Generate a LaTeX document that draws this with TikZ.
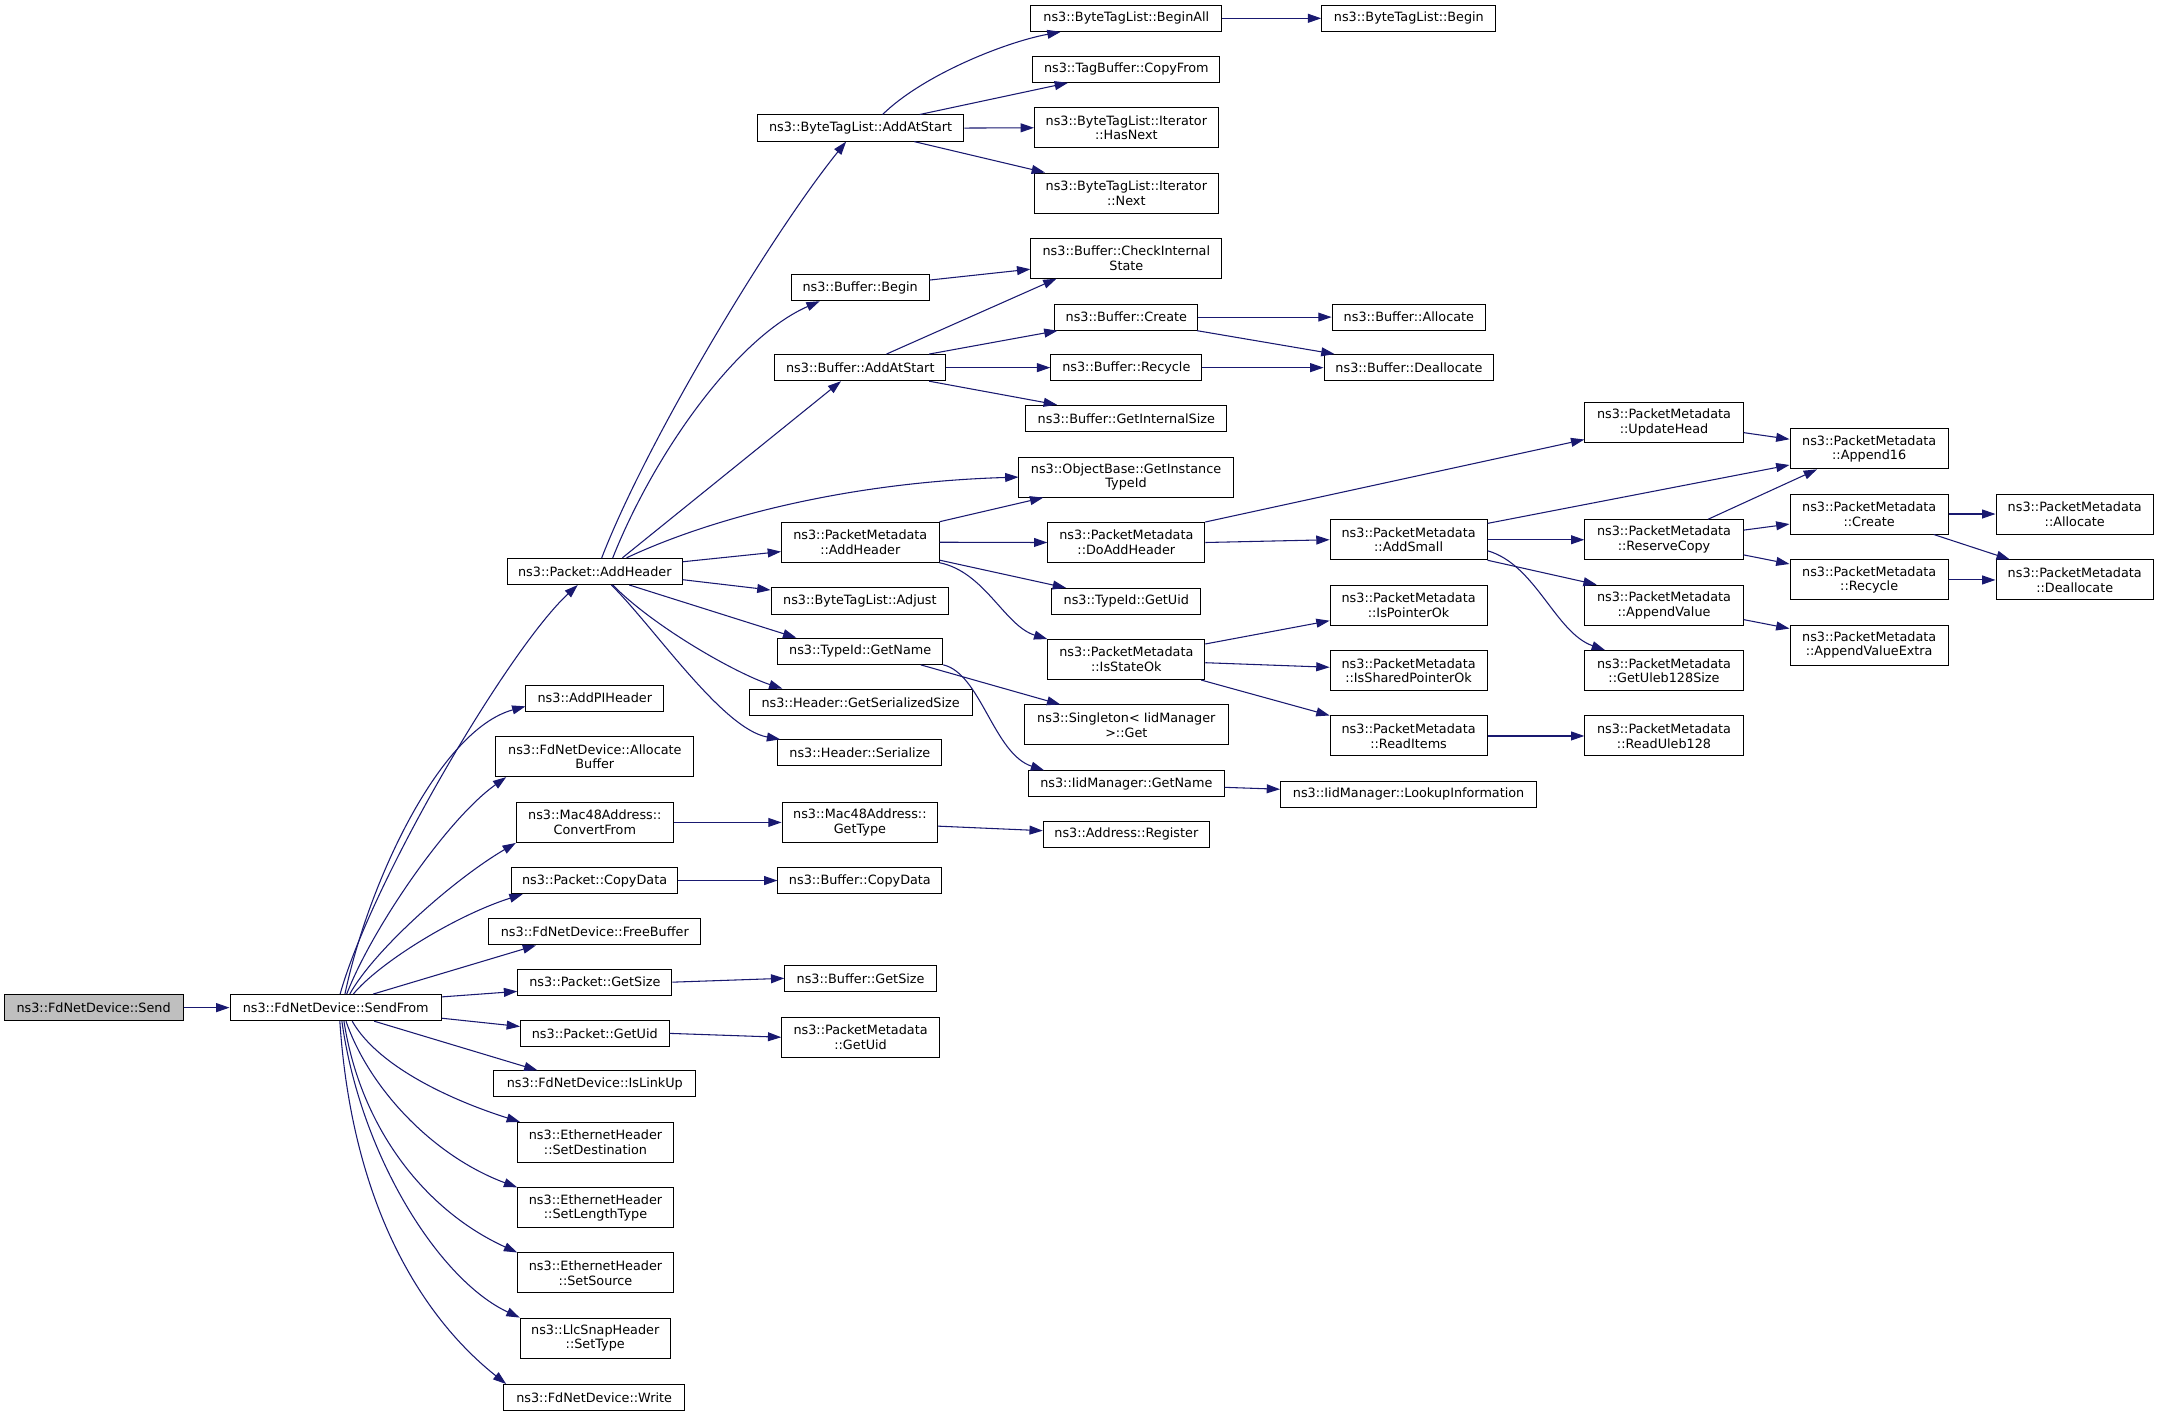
\documentclass[tikz,border=0pt]{standalone}
\usepackage{fontspec}
\setmainfont{DejaVu Sans}
\usepackage{xcolor}
\definecolor{callblue}{RGB}{25, 25, 112}
\definecolor{rootgray}{RGB}{191, 191, 191}
\usepackage{tikz}
\usetikzlibrary{arrows.meta, calc}
\tikzstyle{fn} = [rectangle, draw=black, line width=0.75pt, fill=white, align=center, inner sep=0pt, minimum height=19.6pt, font=\fontsize{9.6}{11}\selectfont]
\tikzstyle{fntwo} = [fn, minimum height=30pt]
\tikzstyle{root} = [fn, fill=rootgray]
\tikzstyle{arrow} = [draw=callblue, line width=0.8pt, -{Triangle[length=10pt,width=6.7pt]}]
\tikzset{wd/.style={minimum width=#1*1.0327pt}}

\begin{document}
\begin{tikzpicture}[x=1.0327pt, y=-1.0327pt]
    \useasboundingbox (0,0) rectangle (1568,1028.4);

    \node[root, wd=130] (send) at (68,731.8) {ns3::FdNetDevice::Send};
    \node[fn, wd=153.5] (sendfrom) at (243.8,731.8) {ns3::FdNetDevice::SendFrom};

    \node[fn, wd=126.7] (pktAddHeader) at (432,415) {ns3::Packet::AddHeader};
    \node[fn, wd=100] (addPI) at (432,507) {ns3::AddPIHeader};
    \node[fntwo, wd=144] (allocBuf) at (432,549.5) {ns3::FdNetDevice::Allocate\\Buffer};
    \node[fntwo, wd=114] (convertFrom) at (432,597.3) {ns3::Mac48Address::\\ConvertFrom};
    \node[fn, wd=120.4] (pktCopyData) at (431.8,639.5) {ns3::Packet::CopyData};
    \node[fn, wd=154] (freeBuf) at (432,676.7) {ns3::FdNetDevice::FreeBuffer};
    \node[fn, wd=112] (pktGetSize) at (432,713.3) {ns3::Packet::GetSize};
    \node[fn, wd=108] (pktGetUid) at (432,750.5) {ns3::Packet::GetUid};
    \node[fn, wd=146.5] (isLinkUp) at (432,787.2) {ns3::FdNetDevice::IsLinkUp};
    \node[fntwo, wd=113] (setDest) at (432.5,829.7) {ns3::EthernetHeader\\::SetDestination};
    \node[fntwo, wd=113] (setLenType) at (432.5,877.2) {ns3::EthernetHeader\\::SetLengthType};
    \node[fntwo, wd=113] (setSource) at (432.5,924.5) {ns3::EthernetHeader\\::SetSource};
    \node[fntwo, wd=109] (setType) at (432.3,971.8) {ns3::LlcSnapHeader\\::SetType};
    \node[fn, wd=131] (fdWrite) at (431.5,1015) {ns3::FdNetDevice::Write};

    \node[fn, wd=150] (btlAddAtStart) at (625,93) {ns3::ByteTagList::AddAtStart};
    \node[fn, wd=100] (bufBegin) at (624.7,208.9) {ns3::Buffer::Begin};
    \node[fn, wd=124.3] (bufAddAtStart) at (624.8,267) {ns3::Buffer::AddAtStart};
    \node[fntwo, wd=114.4] (pmAddHeader) at (624.8,393.8) {ns3::PacketMetadata\\::AddHeader};
    \node[fn, wd=129] (btlAdjust) at (624.5,436.5) {ns3::ByteTagList::Adjust};
    \node[fn, wd=120] (tidGetName) at (624.7,473) {ns3::TypeId::GetName};
    \node[fn, wd=162] (hdrGetSerSize) at (625,510) {ns3::Header::GetSerializedSize};
    \node[fn, wd=119] (hdrSerialize) at (624.5,546.8) {ns3::Header::Serialize};
    \node[fntwo, wd=113] (macGetType) at (624.5,597.3) {ns3::Mac48Address::\\GetType};
    \node[fn, wd=119] (bufCopyData) at (624.5,639.5) {ns3::Buffer::CopyData};
    \node[fn, wd=110] (bufGetSize) at (625,710.5) {ns3::Buffer::GetSize};
    \node[fntwo, wd=114.5] (pmGetUid) at (625,753.3) {ns3::PacketMetadata\\::GetUid};

    \node[fn, wd=138.7] (btlBeginAll) at (818,13.3) {ns3::ByteTagList::BeginAll};
    \node[fn, wd=136] (tbCopyFrom) at (818,50.3) {ns3::TagBuffer::CopyFrom};
    \node[fntwo, wd=133.4] (itHasNext) at (818,92.8) {ns3::ByteTagList::Iterator\\::HasNext};
    \node[fntwo, wd=133.4] (itNext) at (818,140.2) {ns3::ByteTagList::Iterator\\::Next};
    \node[fntwo, wd=138.7] (bufCheckState) at (818,187.5) {ns3::Buffer::CheckInternal\\State};
    \node[fn, wd=104] (bufCreate) at (818,230.3) {ns3::Buffer::Create};
    \node[fn, wd=109.7] (bufRecycle) at (818,267) {ns3::Buffer::Recycle};
    \node[fn, wd=146] (bufGetIntSize) at (818,303.8) {ns3::Buffer::GetInternalSize};
    \node[fntwo, wd=155.5] (obGetInstTid) at (817.8,346.5) {ns3::ObjectBase::GetInstance\\TypeId};
    \node[fntwo, wd=114] (pmDoAddHeader) at (818,394) {ns3::PacketMetadata\\::DoAddHeader};
    \node[fn, wd=108] (tidGetUid) at (818,436.8) {ns3::TypeId::GetUid};
    \node[fntwo, wd=114] (pmIsStateOk) at (818,479) {ns3::PacketMetadata\\::IsStateOk};
    \node[fntwo, wd=148] (singletonGet) at (818,526.5) {ns3::Singleton< IidManager\\>::Get};
    \node[fn, wd=142] (iidGetName) at (818,569.3) {ns3::IidManager::GetName};
    \node[fn, wd=120.6] (addrRegister) at (818,605.8) {ns3::Address::Register};

    \node[fn, wd=126.5] (btlBegin) at (1023.2,13.3) {ns3::ByteTagList::Begin};
    \node[fn, wd=111.5] (bufAllocate) at (1023.2,230.3) {ns3::Buffer::Allocate};
    \node[fn, wd=123.4] (bufDeallocate) at (1023.3,267) {ns3::Buffer::Deallocate};
    \node[fntwo, wd=114] (pmAddSmall) at (1023,392) {ns3::PacketMetadata\\::AddSmall};
    \node[fntwo, wd=114] (pmIsPointerOk) at (1023,439.5) {ns3::PacketMetadata\\::IsPointerOk};
    \node[fntwo, wd=114] (pmIsSharedPtrOk) at (1023,487) {ns3::PacketMetadata\\::IsSharedPointerOk};
    \node[fntwo, wd=114] (pmReadItems) at (1023,534.5) {ns3::PacketMetadata\\::ReadItems};
    \node[fn, wd=186] (iidLookup) at (1023,576.9) {ns3::IidManager::LookupInformation};

    \node[fntwo, wd=115] (pmUpdateHead) at (1208.5,306.7) {ns3::PacketMetadata\\::UpdateHead};
    \node[fntwo, wd=115] (pmReserveCopy) at (1208.5,392) {ns3::PacketMetadata\\::ReserveCopy};
    \node[fntwo, wd=115] (pmAppendValue) at (1208.5,439.5) {ns3::PacketMetadata\\::AppendValue};
    \node[fntwo, wd=115] (pmGetUleb) at (1208.5,487) {ns3::PacketMetadata\\::GetUleb128Size};
    \node[fntwo, wd=115] (pmReadUleb) at (1208.5,534.5) {ns3::PacketMetadata\\::ReadUleb128};

    \node[fntwo, wd=115] (pmAppend16) at (1357.5,326) {ns3::PacketMetadata\\::Append16};
    \node[fntwo, wd=115] (pmCreate) at (1357.5,373.3) {ns3::PacketMetadata\\::Create};
    \node[fntwo, wd=115] (pmRecycle) at (1357.5,421.2) {ns3::PacketMetadata\\::Recycle};
    \node[fntwo, wd=115] (pmAppendValExtra) at (1357.5,468.5) {ns3::PacketMetadata\\::AppendValueExtra};
    \node[fntwo, wd=114.4] (pmAllocate) at (1506.8,373.3) {ns3::PacketMetadata\\::Allocate};
    \node[fntwo, wd=114.4] (pmDeallocate) at (1506.8,421.2) {ns3::PacketMetadata\\::Deallocate};

    \draw[arrow] (send.east) -- (sendfrom.west);

    \draw[arrow] ($(sendfrom.north)+(3.2,0)$) .. controls +(23,-82) and +(-49.6,45.5) .. ($(pktAddHeader.south)+(-12.4,0)$);
    \draw[arrow] ($(sendfrom.north)+(6.7,0)$) .. controls +(17.5,-82.3) and +(-62,17) .. ($(addPI.west)+(0,6)$);
    \draw[arrow] ($(sendfrom.north)+(8,0)$) .. controls +(18.2,-47.3) and +(-43,30.5) .. ($(allocBuf.south west)+(8,0)$);
    \draw[arrow] ($(sendfrom.north)+(10.2,0)$) .. controls +(18,-32.3) and +(-45,26.4) .. (convertFrom.south west);
    \draw[arrow] ($(sendfrom.north)+(12.8,0)$) .. controls +(18.4,-22.3) and +(-50,16) .. ($(pktCopyData.south west)+(8.4,0)$);
    \draw[arrow] ($(sendfrom.north)+(27.2,0)$) -- ($(freeBuf.south west)+(34.7,0)$);
    \draw[arrow] ($(sendfrom.east)+(0,-7.8)$) -- ($(pktGetSize.west)+(0,6.7)$);
    \draw[arrow] ($(sendfrom.east)+(0,7.7)$) -- ($(pktGetUid.west)+(0,-5)$);
    \draw[arrow] ($(sendfrom.south)+(28,0)$) -- ($(isLinkUp.north west)+(32,0)$);
    \draw[arrow] ($(sendfrom.south)+(12,0)$) .. controls +(19.2,33.7) and +(-48,-15.2) .. ($(setDest.north west)+(2,0)$);
    \draw[arrow] ($(sendfrom.south)+(7.5,0)$) .. controls +(16.7,48.7) and +(-61,-22.6) .. (setLenType.north west);
    \draw[arrow] ($(sendfrom.south)+(6,0)$) .. controls +(12.2,78.7) and +(-66,-30) .. (setSource.north west);
    \draw[arrow] ($(sendfrom.south)+(4.5,0)$) .. controls +(13.7,98.7) and +(-58,-27) .. (setType.north west);
    \draw[arrow] ($(sendfrom.south)+(3,0)$) .. controls +(9.2,138.7) and +(-58,-46) .. ($(fdWrite.north west)+(2,0)$);

    \draw[arrow] ($(pktAddHeader.north)+(5,0)$) .. controls +(33,-85.5) and +(-54.5,67.5) .. ($(btlAddAtStart.south)+(-10.5,0)$);
    \draw[arrow] ($(pktAddHeader.north)+(13,0)$) .. controls +(30,-75.5) and +(-60.7,26.6) .. ($(bufBegin.south west)+(21,0)$);
    \draw[arrow] ($(pktAddHeader.north)+(20,0)$) -- ($(bufAddAtStart.south)+(-14,0)$);
    \draw[arrow] ($(pktAddHeader.north)+(23,0)$) .. controls +(65,-30.5) and +(-120,3.5) .. (obGetInstTid.west);
    \draw[arrow] ($(pktAddHeader.east)+(0,-7)$) -- ($(pmAddHeader.west)+(0,6.8)$);
    \draw[arrow] ($(pktAddHeader.east)+(0,6)$) -- ($(btlAdjust.west)+(0,-8)$);
    \draw[arrow] ($(pktAddHeader.south)+(25,0)$) -- ($(tidGetName.north west)+(14,0)$);
    \draw[arrow] ($(pktAddHeader.south)+(13,0)$) .. controls +(30,30.5) and +(-33.6,-11) .. ($(hdrGetSerSize.north west)+(24.6,0)$);
    \draw[arrow] ($(pktAddHeader.south)+(12,0)$) .. controls +(31,30.5) and +(-42,-7.5) .. ($(hdrSerialize.north west)+(2,0)$);

    \draw[arrow] ($(btlAddAtStart.north)+(16,0)$) .. controls +(29,-28.5) and +(-40.5,7.5) .. ($(btlBeginAll.south west)+(22,0)$);
    \draw[arrow] ($(btlAddAtStart.north)+(43,0)$) -- ($(tbCopyFrom.south west)+(26,0)$);
    \draw[arrow] (btlAddAtStart.east) -- (itHasNext.west);
    \draw[arrow] ($(btlAddAtStart.south)+(39,0)$) -- ($(itNext.north west)+(8,0)$);
    \draw[arrow] (btlBeginAll.east) -- (btlBegin.west);

    \draw[arrow] ($(bufBegin.east)+(0,-5.5)$) -- ($(bufCheckState.west)+(0,8)$);
    \draw[arrow] ($(bufAddAtStart.north)+(19,0)$) -- ($(bufCheckState.south west)+(19,0)$);
    \draw[arrow] ($(bufAddAtStart.north)+(50,0)$) -- ($(bufCreate.south west)+(2.4,0)$);
    \draw[arrow] (bufAddAtStart.east) -- (bufRecycle.west);
    \draw[arrow] ($(bufAddAtStart.south)+(50,0)$) -- ($(bufGetIntSize.north west)+(23,0)$);
    \draw[arrow] (bufCreate.east) -- (bufAllocate.west);
    \draw[arrow] ($(bufCreate.south east)+(-1,0)$) -- ($(bufDeallocate.north west)+(8,0)$);
    \draw[arrow] (bufRecycle.east) -- (bufDeallocate.west);

    \draw[arrow] (pmAddHeader.north east) -- ($(obGetInstTid.south west)+(18,0)$);
    \draw[arrow] (pmAddHeader.east) -- (pmDoAddHeader.west);
    \draw[arrow] ($(pmAddHeader.east)+(0,13)$) -- ($(tidGetUid.north west)+(10.6,0)$);
    \draw[arrow] (pmAddHeader.south east) .. controls +(33,6.7) and +(-31,-9.5) .. (pmIsStateOk.north west);
    \draw[arrow] (pmDoAddHeader.north east) -- ($(pmUpdateHead.west)+(0,12.5)$);
    \draw[arrow] (pmDoAddHeader.east) -- (pmAddSmall.west);
    \draw[arrow] ($(pmAddSmall.north east)+(0,3)$) -- ($(pmAppend16.west)+(0,11.7)$);
    \draw[arrow] (pmAddSmall.east) -- (pmReserveCopy.west);
    \draw[arrow] (pmAddSmall.south east) -- ($(pmAppendValue.north west)+(9,0)$);
    \draw[arrow] ($(pmAddSmall.east)+(0,8)$) .. controls +(35,10) and +(-36,-12.5) .. ($(pmGetUleb.north west)+(15,0)$);
    \draw[arrow] ($(pmUpdateHead.east)+(0,7.5)$) -- ($(pmAppend16.west)+(0,-7)$);
    \draw[arrow] ($(pmReserveCopy.north)+(32,0)$) -- ($(pmAppend16.south west)+(20,0)$);
    \draw[arrow] ($(pmReserveCopy.east)+(0,-7)$) -- ($(pmCreate.west)+(0,7.3)$);
    \draw[arrow] ($(pmReserveCopy.east)+(0,11)$) -- ($(pmRecycle.west)+(0,-11.6)$);
    \draw[arrow] (pmCreate.east) -- (pmAllocate.west);
    \draw[arrow] ($(pmCreate.south east)+(-11,0)$) -- ($(pmDeallocate.north west)+(10.4,0)$);
    \draw[arrow] (pmRecycle.east) -- (pmDeallocate.west);
    \draw[arrow] ($(pmAppendValue.east)+(0,10.5)$) -- ($(pmAppendValExtra.west)+(0,-12)$);
    \draw[arrow] ($(pmIsStateOk.east)+(0,-11.3)$) -- ($(pmIsPointerOk.west)+(0,11.3)$);
    \draw[arrow] ($(pmIsStateOk.east)+(0,2.3)$) -- ($(pmIsSharedPtrOk.west)+(0,-2.4)$);
    \draw[arrow] ($(pmIsStateOk.south east)+(-3,0)$) -- (pmReadItems.north west);
    \draw[arrow] (pmReadItems.east) -- (pmReadUleb.west);

    \draw[arrow] ($(tidGetName.south)+(44,0)$) -- ($(singletonGet.north west)+(26.4,0)$);
    \draw[arrow] (tidGetName.south east) .. controls +(27.2,6.3) and +(-36.7,-12) .. ($(iidGetName.north west)+(11.7,0)$);
    \draw[arrow] ($(iidGetName.east)+(0,2.5)$) -- ($(iidLookup.west)+(0,-3.7)$);
    \draw[arrow] (convertFrom.east) -- (macGetType.west);
    \draw[arrow] ($(macGetType.east)+(0,2.7)$) -- ($(addrRegister.west)+(0,-2.5)$);
    \draw[arrow] (pktCopyData.east) -- (bufCopyData.west);
    \draw[arrow] (pktGetSize.east) -- (bufGetSize.west);
    \draw[arrow] (pktGetUid.east) -- (pmGetUid.west);
\end{tikzpicture}
\end{document}
